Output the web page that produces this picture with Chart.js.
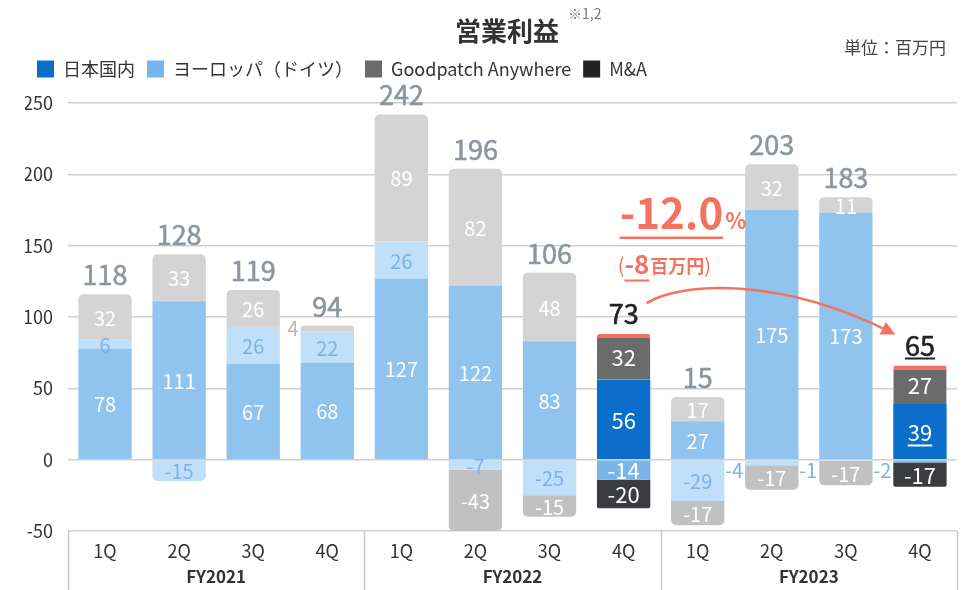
<!DOCTYPE html>
<html lang="ja">
<head>
<meta charset="utf-8">
<script src="https://cdn.jsdelivr.net/npm/chart.js@4.4.1/dist/chart.umd.min.js"></script>
<style>
  body { margin: 0; background: #fff; font-family: "Noto Sans CJK JP", "Noto Sans", sans-serif; }
  #wrap { position: relative; width: 963px; height: 590px; }
  #title { position: absolute; left: 455px; top: 11px; font-size: 26px; font-weight: bold; color: #333; }
  #note { position: absolute; left: 568px; top: 3px; font-size: 14px; color: #777; }
  #unit { position: absolute; right: 17px; top: 34px; font-size: 17px; color: #444; }
</style>
</head>
<body>
<div id="wrap">
  <canvas id="chart"></canvas>
  <div id="title">営業利益</div>
  <div id="note">※1,2</div>
  <div id="unit">単位：百万円</div>
</div>
<script>
// data
const quarters = ['1Q', '2Q', '3Q', '4Q', '1Q', '2Q', '3Q', '4Q', '1Q', '2Q', '3Q', '4Q'];
const fiscalYears = ['FY2021', 'FY2022', 'FY2023'];
const seriesNames = ['日本国内', 'ヨーロッパ（ドイツ）', 'Goodpatch Anywhere', 'M&A'];
const japan = [78, 111, 67, 68, 127, 122, 83, 56, 27, 175, 173, 39];
const europe = [6, -15, 26, 22, 26, -7, -25, -14, -29, -4, -1, -2];
const anywhere = [32, 33, 26, 4, 89, 82, 48, 32, 17, 32, 11, 27];
const mna = [null, null, null, null, null, -43, -15, -20, -17, -17, -17, -17];
const totals = [118, 128, 119, 94, 242, 196, 106, 73, 15, 203, 183, 65];
const highlight = [7, 11];

const strongColors = ['#0b6ecb', '#78b5ea', '#6b6b6b', '#3a3c3f'];
const fadedColors = ['#90c3ee', '#bfe0f8', '#d4d4d4', '#c1c1c1'];
const legendColors = ['#0b6ecb', '#78b5ea', '#6b6b6b', '#222222'];
const labelColors = ['#ffffff', '#7fb0e8', '#ffffff', '#ffffff'];
const sideColors = ['#7fb0e8', '#7fb0e8', '#b8b8b8', '#b8b8b8'];
const accent = '#f4735f';
const FONT = '"Noto Sans CJK JP", "Noto Sans", sans-serif';

const isHi = i => highlight.includes(i);
const seriesData = [japan, europe, anywhere, mna];

function underline(ctx, text, x, y, align) {
  const w = ctx.measureText(text).width;
  const left = align === 'center' ? x - w / 2 : x;
  ctx.fillRect(left, y, w, 2);
}

// value labels inside bars and totals above
const barLabels = {
  id: 'barLabels',
  afterDatasetsDraw(chart) {
    const ctx = chart.ctx;
    const y = chart.scales.y;
    ctx.save();
    chart.data.datasets.forEach((ds, d) => {
      const meta = chart.getDatasetMeta(d);
      meta.data.forEach((bar, i) => {
        const v = ds.data[i];
        if (v === null) return;
        const hi = isHi(i);
        const mid = (bar.y + bar.base) / 2;
        ctx.textBaseline = 'middle';
        if (Math.abs(v) < 5) {
          ctx.font = '20px ' + FONT;
          ctx.textAlign = 'right';
          ctx.fillStyle = sideColors[d];
          const ty = v < 0 ? Math.max(mid, bar.base + 10) : mid;
          ctx.fillText(String(v), bar.x - bar.width / 2 - 2, ty);
          return;
        }
        ctx.font = (hi ? '22px ' : '20px ') + FONT;
        ctx.textAlign = 'center';
        ctx.fillStyle = hi ? '#ffffff' : labelColors[d];
        ctx.fillText(String(v), bar.x, mid + 1);
        if (d === 0 && i === 11) underline(ctx, String(v), bar.x, mid + 13, 'center');
      });
    });

    // totals
    const meta0 = chart.getDatasetMeta(0);
    totals.forEach((t, i) => {
      let top = 0;
      seriesData.forEach(arr => { if (arr[i] > 0) top += arr[i]; });
      const bx = meta0.data[i].x;
      const ty = y.getPixelForValue(top) - (isHi(i) ? 10 : 9);
      ctx.font = '27px ' + FONT;
      ctx.textAlign = 'center';
      ctx.textBaseline = 'alphabetic';
      const col = isHi(i) ? '#222222' : '#8c96a0';
      ctx.fillStyle = col;
      ctx.strokeStyle = col;
      ctx.lineWidth = 0.6;
      ctx.fillText(String(t), bx, ty);
      ctx.strokeText(String(t), bx, ty);
      if (i === 11) underline(ctx, String(t), bx, ty + 2, 'center');
    });
    ctx.restore();
  }
};

// change annotation and arrow
const changeNote = {
  id: 'changeNote',
  afterDatasetsDraw(chart) {
    const ctx = chart.ctx;
    const x = chart.scales.x, y = chart.scales.y;
    const meta0 = chart.getDatasetMeta(0);
    const left = x.getPixelForValue(7) - 4;
    const base = y.getPixelForValue(162);
    ctx.save();
    ctx.fillStyle = accent;
    ctx.strokeStyle = accent;
    ctx.textAlign = 'left';
    ctx.textBaseline = 'alphabetic';
    ctx.font = 'bold 42px ' + FONT;
    const big = '-12.0';
    const bw = ctx.measureText(big).width;
    ctx.fillText(big, left, base);
    ctx.font = 'bold 22px ' + FONT;
    ctx.fillText('%', left + bw + 2, base);
    ctx.fillRect(left, base + 8, bw, 2.5);

    const b2 = base + 45;
    let cx = left - 2;
    ctx.font = '20px ' + FONT;
    ctx.fillText('(', cx, b2 - 1);
    cx += ctx.measureText('(').width;
    ctx.font = 'bold 26px ' + FONT;
    ctx.fillText('-8', cx, b2);
    const w8 = ctx.measureText('-8').width;
    ctx.fillRect(cx, b2 + 6, w8, 2);
    cx += w8 + 1;
    ctx.font = 'bold 18px ' + FONT;
    ctx.fillText('百万円', cx, b2 - 1);
    cx += ctx.measureText('百万円').width;
    ctx.font = '20px ' + FONT;
    ctx.fillText(')', cx, b2 - 1);

    // arrow from 73 to 65
    const startBar = meta0.data[highlight[0]];
    const endBar = meta0.data[highlight[1]];
    const sx = startBar.x + 23;
    const sy = y.getPixelForValue(88) - 31;
    const ex = endBar.x - endBar.width / 2 + 2;
    const ey = y.getPixelForValue(66) - 31;
    const c1x = sx + 35, c1y = sy - 22;
    const c2x = sx + 135, c2y = sy - 26;
    ctx.lineWidth = 2.5;
    ctx.beginPath();
    ctx.moveTo(sx, sy);
    ctx.bezierCurveTo(c1x, c1y, c2x, c2y, ex - 4, ey - 2);
    ctx.stroke();
    const ang = Math.atan2(ey - c2y, ex - c2x);
    ctx.beginPath();
    ctx.moveTo(ex, ey);
    ctx.lineTo(ex - 14 * Math.cos(ang) + 7 * Math.sin(ang), ey - 14 * Math.sin(ang) - 7 * Math.cos(ang));
    ctx.lineTo(ex - 14 * Math.cos(ang) - 7 * Math.sin(ang), ey - 14 * Math.sin(ang) + 7 * Math.cos(ang));
    ctx.closePath();
    ctx.fill();
    ctx.restore();
  }
};

// vertical separators between fiscal years
const fySeparators = {
  id: 'fySeparators',
  afterDraw(chart) {
    const {ctx, chartArea, scales: {x}} = chart;
    const step = x.getPixelForValue(1) - x.getPixelForValue(0);
    ctx.save();
    ctx.strokeStyle = '#c8c8c8';
    ctx.lineWidth = 1.5;
    for (let i = 0; i <= quarters.length; i += 4) {
      const px = Math.round(x.getPixelForValue(i) - step / 2) + 0.5;
      ctx.beginPath();
      ctx.moveTo(px, chartArea.bottom);
      ctx.lineTo(px, chart.height);
      ctx.stroke();
    }
    ctx.restore();
  }
};

const legendSpace = {
  id: 'legendSpace',
  beforeInit(chart) {
    const fit = chart.legend.fit;
    chart.legend.fit = function () {
      fit.bind(chart.legend)();
      this.height += 15;
    };
  }
};

new Chart(document.getElementById('chart'), {
  type: 'bar',
  data: {
    labels: quarters,
    datasets: seriesData.map((arr, d) => ({
      label: seriesNames[d],
      data: arr,
      backgroundColor: c => isHi(c.dataIndex) ? strongColors[d] : fadedColors[d],
      borderColor: accent,
      borderWidth: c => (d === 2 && isHi(c.dataIndex)) ? {top: 4, right: 0, bottom: 0, left: 0} : 0,
      borderRadius: c => isHi(c.dataIndex) ? 2 : 5,
      borderSkipped: 'start',
      barPercentage: 0.72,
      categoryPercentage: 1
    }))
  },
  options: {
    responsive: true,
    maintainAspectRatio: false,
    animation: false,
    layout: { padding: { top: 48, left: 25, right: 6, bottom: 0 } },
    plugins: {
      legend: {
        position: 'top',
        align: 'start',
        labels: {
          boxWidth: 17,
          boxHeight: 17,
          padding: 12,
          color: '#333',
          font: { family: FONT, size: 18 },
          generateLabels: chart => chart.data.datasets.map((ds, i) => ({
            text: ds.label,
            fillStyle: legendColors[i],
            strokeStyle: legendColors[i],
            lineWidth: 0,
            datasetIndex: i,
            fontColor: '#333'
          }))
        }
      },
      tooltip: { enabled: false }
    },
    scales: {
      x: {
        stacked: true,
        grid: { display: false },
        border: { display: false },
        ticks: { color: '#333', font: { family: FONT, size: 18 }, padding: 1 },
        afterFit: s => { s.height = 33; }
      },
      x2: {
        type: 'category',
        labels: fiscalYears,
        position: 'bottom',
        offset: true,
        weight: 1,
        grid: { display: false },
        border: { display: false },
        ticks: { color: '#333', font: { family: FONT, size: 17, weight: 'bold' }, padding: -6 },
        afterFit: s => { s.height = 26; }
      },
      y: {
        stacked: true,
        min: -50,
        max: 250,
        ticks: { stepSize: 50, color: '#333', font: { family: FONT, size: 18 }, padding: 15 },
        grid: { color: '#d0d0d0', lineWidth: 1.5, drawTicks: false },
        border: { display: false },
        afterFit: s => { s.width = 43; }
      }
    }
  },
  plugins: [legendSpace, barLabels, changeNote, fySeparators]
});
</script>
</body>
</html>
